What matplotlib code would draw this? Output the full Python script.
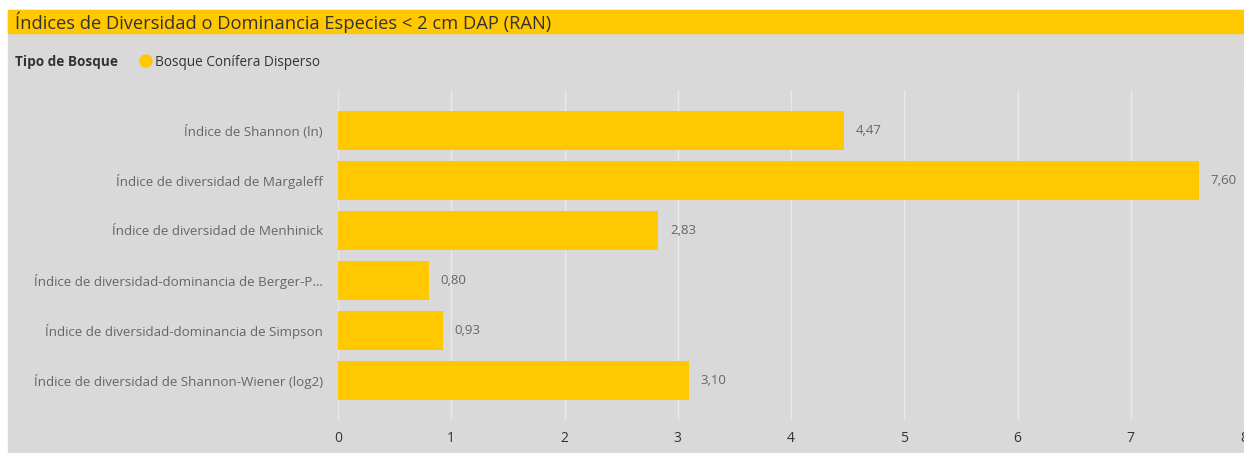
import matplotlib.pyplot as plt
from matplotlib.patches import Rectangle, Ellipse

categories = [
    'Índice de Shannon (ln)',
    'Índice de diversidad de Margaleff',
    'Índice de diversidad de Menhinick',
    'Índice de diversidad-dominancia de Berger-P...',
    'Índice de diversidad-dominancia de Simpson',
    'Índice de diversidad de Shannon-Wiener (log2)',
]
values = [4.47, 7.60, 2.83, 0.80, 0.93, 3.10]
x_ticks = [0, 1, 2, 3, 4, 5, 6, 7, 8]

title = 'Índices de Diversidad o Dominancia Especies < 2 cm DAP (RAN)'
legend_title = 'Tipo de Bosque'
series_name = 'Bosque Conífera Disperso'

yellow = '#FFC800'
panel = '#D9D9D9'

plt.rcParams['font.family'] = ['Open Sans', 'DejaVu Sans']

W, H = 1244, 453
fig = plt.figure(figsize=(W / 100, H / 100), dpi=100)
fig.patch.set_facecolor('white')

# gray panel and title bar
fig.add_artist(Rectangle((8 / W, 0), 1 - 8 / W, 1 - 10 / H,
                         transform=fig.transFigure, color=panel, zorder=0))
fig.add_artist(Rectangle((8 / W, 1 - 33 / H), 1 - 8 / W, 23 / H,
                         transform=fig.transFigure, color=yellow, zorder=1))
fig.text(15 / W, 1 - 22 / H, title, fontsize=13.2, color='#333333',
         va='center', ha='left')

# legend
fig.text(15 / W, 1 - 62 / H, legend_title, fontsize=9.8, fontweight='bold',
         color='#333333', va='center', ha='left')
fig.add_artist(Ellipse((146 / W, 1 - 61 / H), 12 / W, 12 / H,
                       transform=fig.transFigure, color=yellow, zorder=2))
fig.text(155 / W, 1 - 62 / H, series_name, fontsize=9.8, color='#333333',
         va='center', ha='left')

ax = fig.add_axes([338 / W, 1 - 420 / H, (W - 338) / W, 330 / H])
ax.set_facecolor('none')
pos = list(range(len(categories)))
ax.barh(pos, values, height=0.78, color=yellow, zorder=2)
for p, v in zip(pos, values):
    ax.text(v + 0.1, p, f'{v:.2f}'.replace('.', ','), va='center', ha='left',
            fontsize=9.5, color='#666666')

ax.set_xlim(0, 8)
ax.set_ylim(len(categories) - 0.2, -0.8)
ax.set_xticks(x_ticks)
ax.set_yticks(pos)
ax.set_yticklabels(categories)
ax.tick_params(axis='y', length=0, pad=11, labelsize=9.6, labelcolor='#666666')
ax.tick_params(axis='x', length=0, pad=8, labelsize=10, labelcolor='#333333')
ax.grid(axis='x', color='#E9E9E9', linewidth=1, zorder=0)
ax.set_axisbelow(True)
for s in ax.spines.values():
    s.set_visible(False)

fig.savefig('out.png', dpi=100, facecolor=fig.get_facecolor())
